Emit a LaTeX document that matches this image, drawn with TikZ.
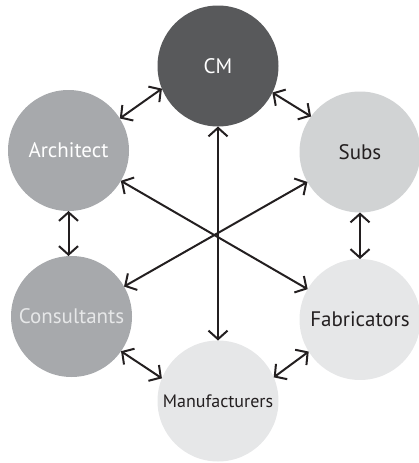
\documentclass[tikz,border=0pt]{standalone}
\usepackage{fontspec}
\setmainfont{PT Sans}
\usetikzlibrary{arrows.meta}
\definecolor{cmfill}{HTML}{58595B}
\definecolor{midfill}{HTML}{A7A9AC}
\definecolor{lightfill}{HTML}{D1D3D4}
\definecolor{palefill}{HTML}{E6E7E8}
\definecolor{ink}{HTML}{231F20}
\begin{document}
\begin{tikzpicture}[x=1pt,y=-1pt,
  circ/.style={circle, minimum size=121pt, inner sep=0pt, outer sep=0pt, font=\fontsize{21}{25}\selectfont},
  conn/.style={draw=ink, line width=2pt, {Straight Barb[length=8.5pt,width=19pt]}-{Straight Barb[length=8.5pt,width=19pt]}}]
\useasboundingbox (0,0) rectangle (419,463);
\node[circ, fill=cmfill, text=white] (cm) at (218,66) {CM};
\node[circ, fill=midfill, text=white] (arch) at (68.5,150.5) {Architect};
\node[circ, fill=lightfill, text=ink] (subs) at (360,152) {Subs};
\node[circ, fill=midfill, text=palefill] (cons) at (71.5,316.5) {Consultants};
\node[circ, fill=palefill, text=ink] (fab) at (360,319.5) {Fabricators};
\node[circ, fill=palefill, text=ink, font=\fontsize{18}{22}\selectfont] (manuf) at (218,401) {Manufacturers};
\draw[conn] (arch.32) -- (cm.202);
\draw[conn] (cm.334) -- (subs.144);
\draw[conn] (arch.south) -- (arch.south |- cons.north);
\draw[conn] (subs.south) -- (fab.north);
\draw[conn] (cons.325) -- (manuf.158);
\draw[conn] (fab.212) -- (manuf.23);
\draw[conn] (arch) -- (fab);
\draw[conn] (subs) -- (cons);
\draw[conn] (cm) -- (manuf);
\end{tikzpicture}
\end{document}
